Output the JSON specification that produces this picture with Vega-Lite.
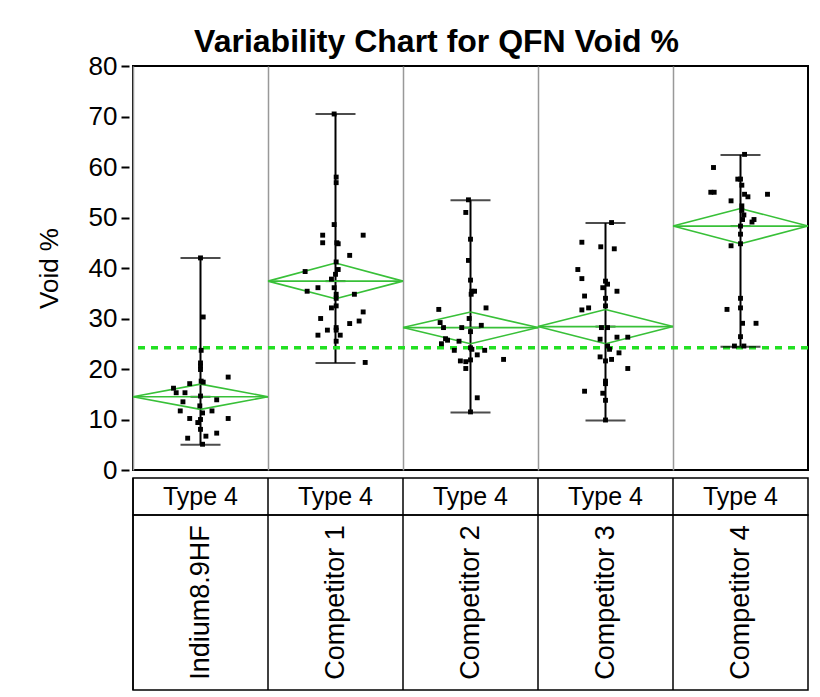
{
  "$schema": "https://vega.github.io/schema/vega-lite/v6.json",
  "background": "white",
  "padding": {"left": 35, "top": 26, "right": 8, "bottom": 5},
  "title": {"text": "Variability Chart for QFN Void %", "font": "Liberation Sans", "fontSize": 32, "fontWeight": "bold", "color": "black", "offset": -7, "anchor": "middle", "frame": "group", "dx": -34},
  "config": {"font": "Liberation Sans", "view": {"stroke": "black", "strokeWidth": 2}},
  "datasets": {
    "pts": [
      {"g": "Indium8.9HF", "v": 42.0, "j": 0}, {"g": "Indium8.9HF", "v": 30.3, "j": 0.04}, {"g": "Indium8.9HF", "v": 23.7, "j": 0.01}, {"g": "Indium8.9HF", "v": 21.2, "j": 0}, {"g": "Indium8.9HF", "v": 20.6, "j": 0}, {"g": "Indium8.9HF", "v": 19.9, "j": 0}, {"g": "Indium8.9HF", "v": 18.4, "j": 0.41}, {"g": "Indium8.9HF", "v": 17.6, "j": 0.01}, {"g": "Indium8.9HF", "v": 17.4, "j": 0.04}, {"g": "Indium8.9HF", "v": 17.1, "j": -0.16}, {"g": "Indium8.9HF", "v": 16.2, "j": -0.4}, {"g": "Indium8.9HF", "v": 15.3, "j": -0.36}, {"g": "Indium8.9HF", "v": 15.3, "j": -0.23}, {"g": "Indium8.9HF", "v": 14.65, "j": 0}, {"g": "Indium8.9HF", "v": 13.9, "j": 0.24}, {"g": "Indium8.9HF", "v": 13.5, "j": -0.26}, {"g": "Indium8.9HF", "v": 12.7, "j": -0.01}, {"g": "Indium8.9HF", "v": 11.7, "j": -0.3}, {"g": "Indium8.9HF", "v": 11.7, "j": 0.17}, {"g": "Indium8.9HF", "v": 11.3, "j": 0.03}, {"g": "Indium8.9HF", "v": 10.2, "j": -0.16}, {"g": "Indium8.9HF", "v": 10.2, "j": 0.41}, {"g": "Indium8.9HF", "v": 10.0, "j": 0}, {"g": "Indium8.9HF", "v": 9.4, "j": -0.04}, {"g": "Indium8.9HF", "v": 8.05, "j": 0}, {"g": "Indium8.9HF", "v": 7.3, "j": 0.24}, {"g": "Indium8.9HF", "v": 6.7, "j": 0.08}, {"g": "Indium8.9HF", "v": 6.3, "j": -0.19}, {"g": "Indium8.9HF", "v": 5.1, "j": 0.03},
      {"g": "Competitor 1", "v": 70.5, "j": -0.02}, {"g": "Competitor 1", "v": 58.0, "j": 0.01}, {"g": "Competitor 1", "v": 56.9, "j": 0.01}, {"g": "Competitor 1", "v": 48.6, "j": -0.02}, {"g": "Competitor 1", "v": 46.5, "j": -0.19}, {"g": "Competitor 1", "v": 45.0, "j": -0.19}, {"g": "Competitor 1", "v": 46.5, "j": 0.41}, {"g": "Competitor 1", "v": 45.0, "j": 0.02}, {"g": "Competitor 1", "v": 44.8, "j": 0.04}, {"g": "Competitor 1", "v": 42.5, "j": 0.21}, {"g": "Competitor 1", "v": 41.2, "j": 0.01}, {"g": "Competitor 1", "v": 39.7, "j": 0.04}, {"g": "Competitor 1", "v": 39.3, "j": -0.45}, {"g": "Competitor 1", "v": 38.75, "j": 0}, {"g": "Competitor 1", "v": 37.8, "j": -0.06}, {"g": "Competitor 1", "v": 36.1, "j": -0.02}, {"g": "Competitor 1", "v": 36.1, "j": -0.26}, {"g": "Competitor 1", "v": 35.4, "j": -0.42}, {"g": "Competitor 1", "v": 34.8, "j": 0.01}, {"g": "Competitor 1", "v": 34.0, "j": 0.01}, {"g": "Competitor 1", "v": 34.8, "j": 0.28}, {"g": "Competitor 1", "v": 32.1, "j": -0.06}, {"g": "Competitor 1", "v": 32.5, "j": 0.01}, {"g": "Competitor 1", "v": 31.3, "j": 0.41}, {"g": "Competitor 1", "v": 30.0, "j": -0.22}, {"g": "Competitor 1", "v": 29.5, "j": 0.35}, {"g": "Competitor 1", "v": 29.0, "j": 0.21}, {"g": "Competitor 1", "v": 28.2, "j": 0.01}, {"g": "Competitor 1", "v": 27.7, "j": 0.01}, {"g": "Competitor 1", "v": 27.7, "j": -0.12}, {"g": "Competitor 1", "v": 26.7, "j": -0.26}, {"g": "Competitor 1", "v": 26.7, "j": 0.07}, {"g": "Competitor 1", "v": 25.5, "j": 0.01}, {"g": "Competitor 1", "v": 21.3, "j": 0.44},
      {"g": "Competitor 2", "v": 53.5, "j": -0.03}, {"g": "Competitor 2", "v": 51.0, "j": -0.07}, {"g": "Competitor 2", "v": 45.7, "j": 0}, {"g": "Competitor 2", "v": 41.5, "j": -0.03}, {"g": "Competitor 2", "v": 37.6, "j": 0}, {"g": "Competitor 2", "v": 35.4, "j": 0.02}, {"g": "Competitor 2", "v": 35.4, "j": 0.06}, {"g": "Competitor 2", "v": 34.8, "j": 0.01}, {"g": "Competitor 2", "v": 31.8, "j": -0.47}, {"g": "Competitor 2", "v": 32.1, "j": 0.23}, {"g": "Competitor 2", "v": 30.0, "j": -0.02}, {"g": "Competitor 2", "v": 29.2, "j": -0.45}, {"g": "Competitor 2", "v": 28.2, "j": -0.4}, {"g": "Competitor 2", "v": 28.2, "j": -0.13}, {"g": "Competitor 2", "v": 28.65, "j": 0.16}, {"g": "Competitor 2", "v": 27.4, "j": 0}, {"g": "Competitor 2", "v": 26.0, "j": -0.37}, {"g": "Competitor 2", "v": 25.7, "j": -0.34}, {"g": "Competitor 2", "v": 25.5, "j": -0.17}, {"g": "Competitor 2", "v": 25.0, "j": -0.43}, {"g": "Competitor 2", "v": 23.7, "j": -0.24}, {"g": "Competitor 2", "v": 24.2, "j": 0}, {"g": "Competitor 2", "v": 23.9, "j": 0.02}, {"g": "Competitor 2", "v": 23.7, "j": 0.21}, {"g": "Competitor 2", "v": 22.8, "j": 0.1}, {"g": "Competitor 2", "v": 21.9, "j": 0.49}, {"g": "Competitor 2", "v": 21.6, "j": -0.15}, {"g": "Competitor 2", "v": 21.45, "j": -0.07}, {"g": "Competitor 2", "v": 21.8, "j": 0}, {"g": "Competitor 2", "v": 20.1, "j": -0.07}, {"g": "Competitor 2", "v": 14.3, "j": 0.1}, {"g": "Competitor 2", "v": 11.5, "j": 0},
      {"g": "Competitor 3", "v": 49.0, "j": 0.09}, {"g": "Competitor 3", "v": 45.1, "j": -0.35}, {"g": "Competitor 3", "v": 44.2, "j": -0.07}, {"g": "Competitor 3", "v": 43.8, "j": 0.13}, {"g": "Competitor 3", "v": 39.7, "j": -0.41}, {"g": "Competitor 3", "v": 37.9, "j": -0.35}, {"g": "Competitor 3", "v": 37.4, "j": 0}, {"g": "Competitor 3", "v": 36.8, "j": 0.03}, {"g": "Competitor 3", "v": 36.1, "j": -0.04}, {"g": "Competitor 3", "v": 35.4, "j": 0.17}, {"g": "Competitor 3", "v": 34.45, "j": -0.31}, {"g": "Competitor 3", "v": 34.0, "j": 0}, {"g": "Competitor 3", "v": 32.5, "j": 0}, {"g": "Competitor 3", "v": 32.1, "j": -0.25}, {"g": "Competitor 3", "v": 31.7, "j": -0.35}, {"g": "Competitor 3", "v": 28.2, "j": -0.06}, {"g": "Competitor 3", "v": 28.2, "j": 0.03}, {"g": "Competitor 3", "v": 25.9, "j": -0.08}, {"g": "Competitor 3", "v": 26.3, "j": 0.17}, {"g": "Competitor 3", "v": 26.3, "j": 0.33}, {"g": "Competitor 3", "v": 24.55, "j": 0.03}, {"g": "Competitor 3", "v": 23.9, "j": 0.06}, {"g": "Competitor 3", "v": 23.2, "j": 0.2}, {"g": "Competitor 3", "v": 22.4, "j": -0.08}, {"g": "Competitor 3", "v": 21.9, "j": 0.09}, {"g": "Competitor 3", "v": 21.6, "j": 0}, {"g": "Competitor 3", "v": 20.1, "j": 0.33}, {"g": "Competitor 3", "v": 17.6, "j": 0}, {"g": "Competitor 3", "v": 17.1, "j": 0}, {"g": "Competitor 3", "v": 15.6, "j": -0.31}, {"g": "Competitor 3", "v": 15.2, "j": -0.04}, {"g": "Competitor 3", "v": 13.8, "j": 0}, {"g": "Competitor 3", "v": 9.9, "j": 0},
      {"g": "Competitor 4", "v": 62.5, "j": 0.06}, {"g": "Competitor 4", "v": 59.9, "j": -0.4}, {"g": "Competitor 4", "v": 57.6, "j": -0.04}, {"g": "Competitor 4", "v": 57.6, "j": 0}, {"g": "Competitor 4", "v": 56.4, "j": 0.02}, {"g": "Competitor 4", "v": 55.0, "j": -0.44}, {"g": "Competitor 4", "v": 55.0, "j": -0.39}, {"g": "Competitor 4", "v": 54.6, "j": 0.06}, {"g": "Competitor 4", "v": 54.1, "j": 0.11}, {"g": "Competitor 4", "v": 54.6, "j": 0.4}, {"g": "Competitor 4", "v": 53.3, "j": -0.14}, {"g": "Competitor 4", "v": 52.3, "j": 0.02}, {"g": "Competitor 4", "v": 51.4, "j": 0.02}, {"g": "Competitor 4", "v": 50.5, "j": 0.05}, {"g": "Competitor 4", "v": 49.6, "j": 0.2}, {"g": "Competitor 4", "v": 49.1, "j": 0.17}, {"g": "Competitor 4", "v": 49.6, "j": 0.03}, {"g": "Competitor 4", "v": 48.3, "j": 0}, {"g": "Competitor 4", "v": 46.7, "j": 0}, {"g": "Competitor 4", "v": 44.8, "j": 0}, {"g": "Competitor 4", "v": 44.4, "j": -0.14}, {"g": "Competitor 4", "v": 34.0, "j": 0}, {"g": "Competitor 4", "v": 32.1, "j": 0}, {"g": "Competitor 4", "v": 31.8, "j": -0.2}, {"g": "Competitor 4", "v": 29.05, "j": 0.03}, {"g": "Competitor 4", "v": 29.05, "j": 0.23}, {"g": "Competitor 4", "v": 26.4, "j": 0}, {"g": "Competitor 4", "v": 24.55, "j": -0.09}, {"g": "Competitor 4", "v": 24.55, "j": 0.05}
    ],
    "sum": [
      {"g": "Indium8.9HF", "mn": 5.0, "mx": 42.0, "m": 14.5, "lo": 12.0, "hi": 17.0},
      {"g": "Competitor 1", "mn": 21.2, "mx": 70.5, "m": 37.4, "lo": 33.9, "hi": 41.0},
      {"g": "Competitor 2", "mn": 11.4, "mx": 53.4, "m": 28.2, "lo": 25.0, "hi": 31.3},
      {"g": "Competitor 3", "mn": 9.8, "mx": 48.9, "m": 28.4, "lo": 25.0, "hi": 31.8},
      {"g": "Competitor 4", "mn": 24.4, "mx": 62.4, "m": 48.3, "lo": 44.8, "hi": 51.8}
    ],
    "ref": [{"r": 24.2}],
    "cat": [
      {"g": "Indium8.9HF", "t": "Type 4"},
      {"g": "Competitor 1", "t": "Type 4"},
      {"g": "Competitor 2", "t": "Type 4"},
      {"g": "Competitor 3", "t": "Type 4"},
      {"g": "Competitor 4", "t": "Type 4"}
    ]
  },
  "bounds": "flush",
  "spacing": 8,
  "vconcat": [
    {
      "width": 675,
      "height": 404,
      "layer": [
        {
          "data": {"name": "sum"},
          "mark": {"type": "rule", "color": "black", "strokeWidth": 2},
          "encoding": {
            "x": {"field": "g", "type": "nominal", "scale": {"domain": ["Indium8.9HF", "Competitor 1", "Competitor 2", "Competitor 3", "Competitor 4"], "paddingInner": 0, "paddingOuter": 0},
              "axis": {"title": null, "labels": false, "ticks": false, "grid": true, "bandPosition": 0, "gridColor": "#999999", "gridWidth": 1.5, "domain": false}},
            "y": {"field": "mn", "type": "quantitative", "scale": {"domain": [0, 80], "nice": false},
              "axis": {"title": "Void %", "titleFontSize": 26, "titleFontWeight": "normal", "titleColor": "black", "titlePadding": 26, "labelFontSize": 26, "labelColor": "black", "labelPadding": 4, "tickSize": 8, "tickWidth": 2, "tickColor": "black", "offset": 4, "domain": false, "grid": false, "values": [0, 10, 20, 30, 40, 50, 60, 70, 80]}},
            "y2": {"field": "mx"}
          }
        },
        {
          "data": {"name": "ref"},
          "mark": {"type": "rule", "color": "#22e022", "strokeWidth": 3.5, "strokeDash": [7, 6]},
          "encoding": {"y": {"field": "r", "type": "quantitative"}}
        },
        {
          "data": {"name": "sum"},
          "mark": {"type": "tick", "color": "black", "size": 40, "thickness": 2},
          "encoding": {"x": {"field": "g", "type": "nominal"}, "y": {"field": "mn", "type": "quantitative"}}
        },
        {
          "data": {"name": "sum"},
          "mark": {"type": "tick", "color": "black", "size": 40, "thickness": 2},
          "encoding": {"x": {"field": "g", "type": "nominal"}, "y": {"field": "mx", "type": "quantitative"}}
        },
        {
          "data": {"name": "sum"},
          "mark": {"type": "tick", "color": "black", "size": 20, "thickness": 2},
          "encoding": {"x": {"field": "g", "type": "nominal"}, "y": {"field": "m", "type": "quantitative"}}
        },
        {
          "data": {"name": "sum"},
          "mark": {"type": "rule", "color": "#38c038", "strokeWidth": 1.6},
          "encoding": {"x": {"field": "g", "type": "nominal", "bandPosition": 0}, "x2": {"field": "g", "bandPosition": 1}, "y": {"field": "m", "type": "quantitative"}}
        },
        {
          "data": {"name": "sum"},
          "mark": {"type": "rule", "color": "#38c038", "strokeWidth": 1.6},
          "encoding": {"x": {"field": "g", "type": "nominal", "bandPosition": 0}, "x2": {"field": "g", "bandPosition": 0.5}, "y": {"field": "m", "type": "quantitative"}, "y2": {"field": "hi"}}
        },
        {
          "data": {"name": "sum"},
          "mark": {"type": "rule", "color": "#38c038", "strokeWidth": 1.6},
          "encoding": {"x": {"field": "g", "type": "nominal", "bandPosition": 0.5}, "x2": {"field": "g", "bandPosition": 1}, "y": {"field": "hi", "type": "quantitative"}, "y2": {"field": "m"}}
        },
        {
          "data": {"name": "sum"},
          "mark": {"type": "rule", "color": "#38c038", "strokeWidth": 1.6},
          "encoding": {"x": {"field": "g", "type": "nominal", "bandPosition": 0}, "x2": {"field": "g", "bandPosition": 0.5}, "y": {"field": "m", "type": "quantitative"}, "y2": {"field": "lo"}}
        },
        {
          "data": {"name": "sum"},
          "mark": {"type": "rule", "color": "#38c038", "strokeWidth": 1.6},
          "encoding": {"x": {"field": "g", "type": "nominal", "bandPosition": 0.5}, "x2": {"field": "g", "bandPosition": 1}, "y": {"field": "lo", "type": "quantitative"}, "y2": {"field": "m"}}
        },
        {
          "data": {"name": "pts"},
          "mark": {"type": "square", "color": "black", "opacity": 1, "filled": true, "size": 24},
          "encoding": {
            "x": {"field": "g", "type": "nominal"},
            "xOffset": {"field": "j", "type": "quantitative", "scale": {"domain": [-1, 1], "range": [0, 135]}},
            "y": {"field": "v", "type": "quantitative"}
          }
        }
      ]
    },
    {
      "spacing": 0,
      "bounds": "flush",
      "vconcat": [
        {
          "width": 675,
          "height": 37,
          "data": {"name": "cat"},
          "view": {"stroke": "black", "strokeWidth": 1.5},
          "layer": [
            {
              "mark": {"type": "rule", "color": "black", "strokeWidth": 1.5},
              "encoding": {
                "x": {"field": "g", "type": "nominal", "bandPosition": 0, "scale": {"domain": ["Indium8.9HF", "Competitor 1", "Competitor 2", "Competitor 3", "Competitor 4"], "paddingInner": 0, "paddingOuter": 0}, "axis": null}
              }
            },
            {
              "mark": {"type": "text", "fontSize": 25, "color": "black", "font": "Liberation Sans", "baseline": "middle"},
              "encoding": {"x": {"field": "g", "type": "nominal"}, "text": {"field": "t"}}
            }
          ]
        },
        {
          "width": 675,
          "height": 175,
          "data": {"name": "cat"},
          "view": {"stroke": "black", "strokeWidth": 1.5},
          "layer": [
            {
              "mark": {"type": "rule", "color": "black", "strokeWidth": 1.5},
              "encoding": {
                "x": {"field": "g", "type": "nominal", "bandPosition": 0, "scale": {"domain": ["Indium8.9HF", "Competitor 1", "Competitor 2", "Competitor 3", "Competitor 4"], "paddingInner": 0, "paddingOuter": 0}, "axis": null}
              }
            },
            {
              "mark": {"type": "text", "fontSize": 27, "color": "black", "font": "Liberation Sans", "angle": 270, "baseline": "middle", "align": "center"},
              "encoding": {"x": {"field": "g", "type": "nominal"}, "text": {"field": "g"}}
            }
          ]
        }
      ]
    }
  ]
}
